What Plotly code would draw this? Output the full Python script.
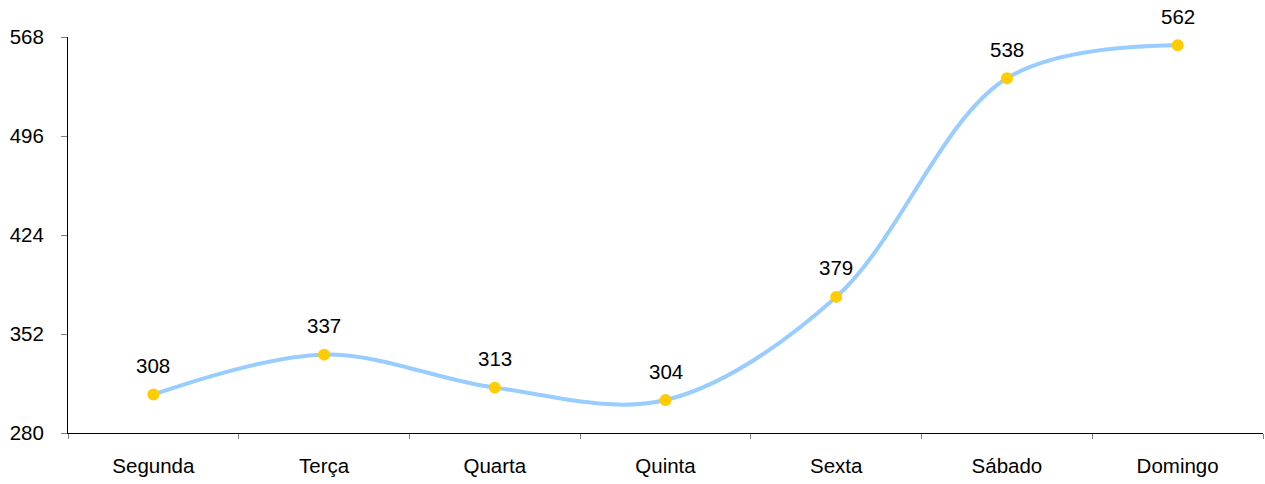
import plotly.graph_objects as go

categories = ["Segunda", "Terça", "Quarta", "Quinta", "Sexta", "Sábado", "Domingo"]
values = [308, 337, 313, 304, 379, 538, 562]
y_ticks = [280, 352, 424, 496, 568]

FONT = "Liberation Sans, Arial"
FS = 20.5

fig = go.Figure()
fig.add_trace(go.Scatter(
    x=list(range(len(categories))), y=values,
    mode="lines+markers",
    line=dict(color="#99CCFF", width=4, shape="spline", smoothing=1.0),
    marker=dict(color="#FFCC00", size=12),
    cliponaxis=False,
    hoverinfo="skip",
))
for i, v in enumerate(values):
    fig.add_annotation(x=i, y=v, text=str(v), showarrow=False, yshift=29,
                       font=dict(family=FONT, size=FS, color="#000"))

# category boundary tick marks on the x axis
fig.add_trace(go.Scatter(x=[-0.5], y=[280], mode="markers", xaxis="x2",
                         marker=dict(size=0, opacity=0), hoverinfo="skip"))

fig.update_layout(
    width=1265, height=484,
    margin=dict(l=68, r=2, t=37, b=51, autoexpand=False),
    paper_bgcolor="white", plot_bgcolor="white",
    showlegend=False,
    font=dict(family=FONT, size=FS, color="#000"),
    xaxis=dict(
        range=[-0.5, len(categories) - 0.5],
        tickvals=list(range(len(categories))), ticktext=categories,
        showgrid=False, zeroline=False, automargin=False,
        showline=True, linecolor="#000", linewidth=1,
        ticks="", ticklabelstandoff=14,
    ),
    xaxis2=dict(
        overlaying="x", range=[-0.5, len(categories) - 0.5],
        tickvals=[i + 0.5 for i in range(-1, len(categories))], showticklabels=False,
        ticks="outside", ticklen=5, tickcolor="#808080", showgrid=False, zeroline=False,
        side="bottom", anchor="y", automargin=False,
    ),
    yaxis=dict(
        range=[y_ticks[0], y_ticks[-1]], tickvals=y_ticks,
        showgrid=False, zeroline=False, automargin=False,
        showline=True, linecolor="#000", linewidth=1,
        ticks="outside", ticklen=6, tickcolor="#808080", ticklabelstandoff=13,
    ),
)
# remove the browser's default 8px body margin so the figure fills the window
fig.write_html("out.html",
               config={"displayModeBar": False},
               post_script="document.body.style.margin='0';document.body.style.overflow='hidden';")
